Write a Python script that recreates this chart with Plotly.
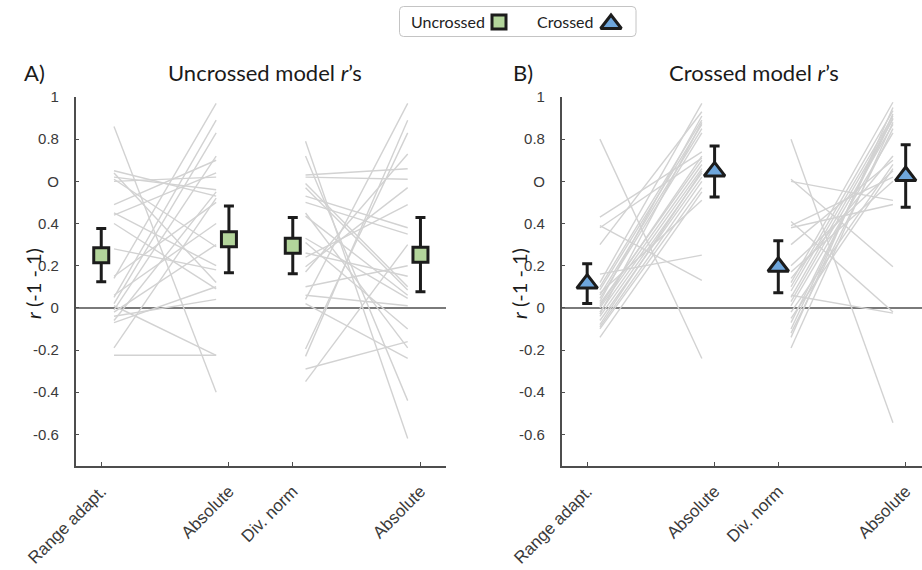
import plotly.graph_objects as go

W, H = 922, 570

# ---------------- data ----------------
conditions = ["Range adapt.", "Absolute", "Div. norm", "Absolute"]
cond_pos = [1, 3, 4, 6]
line_offset = 0.2

ytick_vals = [-0.6, -0.4, -0.2, 0, 0.2, 0.4, 0.6, 0.8, 1]
ytick_text = ["-0.6", "-0.4", "-0.2", "0", "0.2", "0.4", "O", "0.8", "1"]

# Panel A: Uncrossed model r's (individual subjects)
a_range = [0.86, 0.65, 0.64, 0.62, 0.61, 0.60, 0.49, 0.45, 0.44, 0.40, 0.28, 0.15,
           0.14, 0.06, 0.05, 0.02, 0.01, -0.01, -0.04, -0.06, -0.07, -0.02, -0.19, -0.225]
a_abs1 = [-0.40, 0.53, 0.12, 0.56, 0.29, 0.62, 0.70, 0.20, 0.64, 0.09, 0.18, 0.50,
          0.97, 0.40, 0.89, 0.83, -0.225, 0.72, 0.04, 0.55, 0.10, 0.30, 0.52, -0.225]
a_divn = [0.79, 0.72, 0.63, 0.62, 0.59, 0.57, 0.53, 0.50, 0.435, 0.33, 0.31, 0.24,
          0.195, 0.17, 0.04, 0.02, -0.195, -0.23, -0.29, -0.35, 0.10, 0.45, 0.26, 0.06]
a_abs2 = [-0.62, -0.44, 0.66, 0.61, 0.10, 0.085, 0.38, 0.35, 0.06, 0.045, -0.10, 0.49,
          0.57, 0.73, 0.97, -0.24, 0.83, 0.89, -0.16, 0.30, 0.20, -0.19, 0.15, 0.01]

# Panel B: Crossed model r's (individual subjects)
b_range = [0.80, 0.43, 0.39, 0.38, 0.30, 0.16, 0.12, 0.10, 0.085, 0.06, 0.045, 0.02,
           0.0, -0.02, -0.04, -0.06, -0.09, -0.10, -0.14, 0.03, 0.07, -0.03, 0.01, -0.08]
b_abs1 = [-0.24, 0.74, 0.13, 0.71, 0.93, 0.25, 0.97, 0.89, 0.87, 0.85, 0.83, 0.70,
          0.68, 0.66, 0.64, 0.62, 0.60, 0.57, 0.55, 0.91, 0.51, 0.88, 0.72, 0.65]
b_divn = [0.80, 0.61, 0.60, 0.41, 0.39, 0.38, 0.30, 0.20, 0.17, 0.14, 0.12, 0.10,
          0.08, 0.05, 0.03, 0.01, -0.02, -0.05, -0.07, -0.12, -0.14, -0.19, 0.06, -0.10]
b_abs2 = [-0.545, 0.195, 0.51, -0.02, 0.62, 0.49, 0.70, 0.65, 0.60, 0.72, 0.975, 0.935,
          0.91, 0.895, 0.87, 0.83, 0.68, 0.66, 0.90, 0.85, 0.95, 0.88, -0.025, 0.92]

# group means and error-bar half widths
a_means = [0.25, 0.325, 0.295, 0.252]
a_errs = [0.126, 0.158, 0.133, 0.176]
b_means = [0.115, 0.647, 0.195, 0.625]
b_errs = [0.094, 0.121, 0.123, 0.148]

# ---------------- styling ----------------
LINE_GRAY = "#d2d2d2"
AXIS_COL = "#4d4d4d"
EDGE = "#1c1c1c"
GREEN = "#b3d59b"
BLUE = "#6ea6dc"
YTICK_FONT = dict(family="Liberation Sans, Arial, sans-serif", size=15, color="#3a3a3a")
XTICK_FONT = dict(family="Liberation Sans, Arial, sans-serif", size=17, color="#3a3a3a")
TXT_FONT = "Lato, sans-serif"


def px_x(p):
    return p / W


def px_y(p):
    return 1 - p / H


def pair_lines(left_vals, right_vals, x_left, x_right):
    xs, ys = [], []
    for l, r in zip(left_vals, right_vals):
        xs += [x_left + line_offset, x_right - line_offset, None]
        ys += [l, r, None]
    return xs, ys


fig = go.Figure()

panels = [
    ("x", "y", (a_range, a_abs1, a_divn, a_abs2), a_means, a_errs, "square", GREEN, 15),
    ("x2", "y2", (b_range, b_abs1, b_divn, b_abs2), b_means, b_errs, "triangle-up", BLUE, 18),
]

for xa, ya, subj, means, errs, sym, col, msize in panels:
    for (li, ri) in [(0, 1), (2, 3)]:
        xs, ys = pair_lines(subj[li], subj[ri], cond_pos[li], cond_pos[ri])
        fig.add_trace(go.Scatter(x=xs, y=ys, mode="lines", xaxis=xa, yaxis=ya,
                                 line=dict(color=LINE_GRAY, width=1.4),
                                 showlegend=False, hoverinfo="skip"))
    fig.add_trace(go.Scatter(
        x=cond_pos, y=means, mode="markers", xaxis=xa, yaxis=ya,
        marker=dict(symbol=sym, size=msize, color=col, line=dict(color=EDGE, width=3)),
        error_y=dict(type="data", array=errs, visible=True, color=EDGE, thickness=3, width=5),
        showlegend=False))

# legend icons on an invisible pixel-space overlay axis
legend_labels = ["Uncrossed", "Crossed"]
legend_symbols = ["square", "triangle-up"]
legend_colors = [GREEN, BLUE]
legend_sizes = [14, 18]
legend_icon_px = [(499, 22), (611, 24)]
legend_text_right_px = [487, 595]

for (ix, iy), s, c, sz in zip(legend_icon_px, legend_symbols, legend_colors, legend_sizes):
    fig.add_trace(go.Scatter(x=[ix], y=[iy], mode="markers", xaxis="x3", yaxis="y3",
                             marker=dict(symbol=s, size=sz, color=c,
                                         line=dict(color=EDGE, width=3)),
                             showlegend=False, hoverinfo="skip"))

axis_common = dict(showline=True, linecolor=AXIS_COL, linewidth=1.5, ticks="inside",
                   ticklen=4, tickwidth=1.3, tickcolor=AXIS_COL, showgrid=False,
                   mirror=False, automargin=False)

x_common = dict(axis_common, tickvals=cond_pos, ticktext=conditions, tickangle=-45,
                tickfont=XTICK_FONT, zeroline=False, ticklabelstandoff=7)
y_common = dict(axis_common, range=[-0.75, 1], tickvals=ytick_vals, ticktext=ytick_text,
                tickfont=YTICK_FONT, zeroline=True, zerolinecolor="#7a7a7a",
                zerolinewidth=1.5, ticklabelstandoff=12)

yd = [px_y(466), px_y(97)]

fig.update_layout(
    width=W, height=H, margin=dict(l=0, r=0, t=0, b=0, autoexpand=False),
    paper_bgcolor="white", plot_bgcolor="rgba(0,0,0,0)", showlegend=False,
    xaxis=dict(x_common, domain=[px_x(75.7), px_x(446)], range=[0.6, 6.4], anchor="y"),
    yaxis=dict(y_common, domain=yd, anchor="x"),
    xaxis2=dict(x_common, domain=[px_x(561.7), 1.0], range=[0.6, 6.256], anchor="y2"),
    yaxis2=dict(y_common, domain=yd, anchor="x2"),
    xaxis3=dict(domain=[0, 1], range=[0, W], visible=False, anchor="y3", automargin=False),
    yaxis3=dict(domain=[0, 1], range=[H, 0], visible=False, anchor="x3", automargin=False),
)

# legend box (rounded rectangle)
bx0, bx1, by0, by1, rad = 399.5, 636, 6.5, 36.5, 4


def rr_path(x0, x1, y0, y1, r):
    pts = [
        f"M {px_x(x0 + r)},{px_y(y0)}",
        f"L {px_x(x1 - r)},{px_y(y0)}",
        f"Q {px_x(x1)},{px_y(y0)} {px_x(x1)},{px_y(y0 + r)}",
        f"L {px_x(x1)},{px_y(y1 - r)}",
        f"Q {px_x(x1)},{px_y(y1)} {px_x(x1 - r)},{px_y(y1)}",
        f"L {px_x(x0 + r)},{px_y(y1)}",
        f"Q {px_x(x0)},{px_y(y1)} {px_x(x0)},{px_y(y1 - r)}",
        f"L {px_x(x0)},{px_y(y0 + r)}",
        f"Q {px_x(x0)},{px_y(y0)} {px_x(x0 + r)},{px_y(y0)}",
        "Z",
    ]
    return " ".join(pts)


fig.add_shape(type="path", xref="paper", yref="paper", path=rr_path(bx0, bx1, by0, by1, rad),
              line=dict(color="#c4c4c4", width=1), fillcolor="rgba(0,0,0,0)", layer="below")

for lab, xr in zip(legend_labels, legend_text_right_px):
    fig.add_annotation(x=px_x(xr), y=px_y(21.5), xref="paper", yref="paper", text=lab,
                       showarrow=False, xanchor="right", yanchor="middle",
                       font=dict(family=TXT_FONT, size=16, color="#222"))

# panel titles, letters and y-axis labels
titles = ["Uncrossed model <i>r</i>’s", "Crossed model <i>r</i>’s"]
title_cx = [265, 754]
letters = ["A)", "B)"]
letter_x = [22, 511]
ylabel_x = [33, 519]

for t, cx, L, lx, yx in zip(titles, title_cx, letters, letter_x, ylabel_x):
    fig.add_annotation(x=px_x(cx), y=px_y(73), xref="paper", yref="paper", text=t,
                       showarrow=False, xanchor="center", yanchor="middle",
                       font=dict(family=TXT_FONT, size=22, color="#1a1a1a"))
    fig.add_annotation(x=px_x(lx), y=px_y(73), xref="paper", yref="paper", text=L,
                       showarrow=False, xanchor="left", yanchor="middle",
                       font=dict(family=TXT_FONT, size=22, color="#1a1a1a"))
    fig.add_annotation(x=px_x(yx), y=px_y(284), xref="paper", yref="paper",
                       text="<i>r</i> (-1 - 1)", textangle=-90,
                       showarrow=False, xanchor="center", yanchor="middle",
                       font=dict(family=TXT_FONT, size=20, color="#1a1a1a"))

fig.write_html("out.html")
